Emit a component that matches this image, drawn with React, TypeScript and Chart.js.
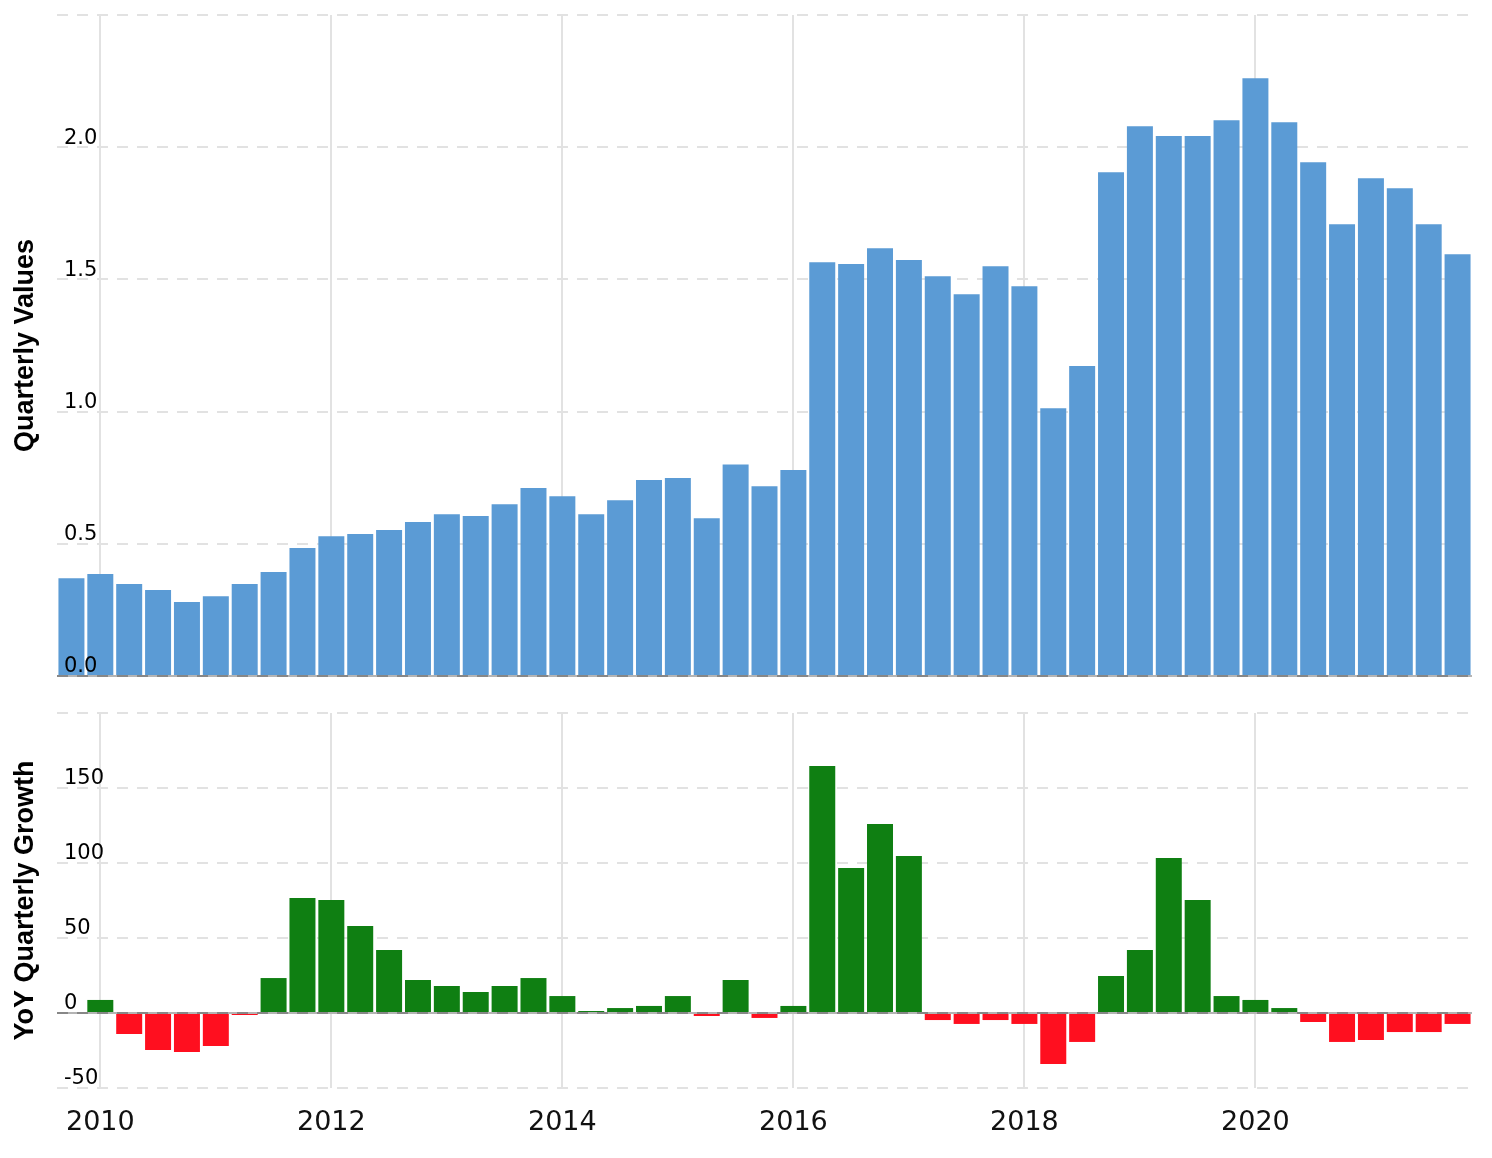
import React, { useEffect, useRef } from 'react';
import { Chart, registerables } from 'chart.js';

Chart.register(...registerables);

// Quarter end dates
const QUARTERS = [
  '2009-09-30', '2009-12-31',
  '2010-03-31', '2010-06-30', '2010-09-30', '2010-12-31',
  '2011-03-31', '2011-06-30', '2011-09-30', '2011-12-31',
  '2012-03-31', '2012-06-30', '2012-09-30', '2012-12-31',
  '2013-03-31', '2013-06-30', '2013-09-30', '2013-12-31',
  '2014-03-31', '2014-06-30', '2014-09-30', '2014-12-31',
  '2015-03-31', '2015-06-30', '2015-09-30', '2015-12-31',
  '2016-03-31', '2016-06-30', '2016-09-30', '2016-12-31',
  '2017-03-31', '2017-06-30', '2017-09-30', '2017-12-31',
  '2018-03-31', '2018-06-30', '2018-09-30', '2018-12-31',
  '2019-03-31', '2019-06-30', '2019-09-30', '2019-12-31',
  '2020-03-31', '2020-06-30', '2020-09-30', '2020-12-31',
  '2021-03-31', '2021-06-30', '2021-09-30',
];

// Quarterly values
const VALUES = [
  0.37, 0.386, 0.348, 0.325, 0.28, 0.302, 0.348, 0.393, 0.484, 0.529,
  0.537, 0.552, 0.582, 0.612, 0.605, 0.65, 0.711, 0.68, 0.612, 0.665,
  0.741, 0.749, 0.597, 0.8, 0.718, 0.779, 1.565, 1.558, 1.618, 1.573,
  1.512, 1.444, 1.55, 1.474, 1.013, 1.172, 1.905, 2.079, 2.042, 2.042,
  2.102, 2.261, 2.094, 1.943, 1.709, 1.883, 1.845, 1.709, 1.595,
];

// YoY quarterly growth (%)
const GROWTH: (number | null)[] = [
  null, 8.7, -14, -24.7, -26, -22, -1, 23.3, 76.7, 75.3,
  58, 42, 22, 18, 14, 18, 23.3, 11.3, 1, 3.3,
  4.7, 11.3, -2, 22, -3.3, 4.7, 164.7, 96.7, 126, 104.7,
  -4.7, -7.3, -4.7, -7.3, -34, -19.3, 24.7, 42, 103.3, 75.3,
  11.3, 8.7, 3.3, -6, -19.3, -18, -12.7, -12.7, -7.3,
];

const YEAR_TICKS = [2010, 2012, 2014, 2016, 2018, 2020];
const VALUE_TICKS = [0, 0.5, 1, 1.5, 2, 2.5];
const GROWTH_TICKS = [-50, 0, 50, 100, 150, 200];

const BLUE = '#5b9bd5';
const GREEN = '#0f7f12';
const RED = '#ff0f1f';
const GRID = '#e2e2e2';
const DASH = [11, 9];

function toYear(d: string) {
  const [y, m] = d.split('-').map(Number);
  return y + m / 12;
}
const XS = QUARTERS.map(toYear);
const HALF = (XS[1] - XS[0]) / 2;
const X_MIN = XS[0] - HALF;
const X_MAX = XS[XS.length - 1] + HALF;

const zeroLinePlugin = {
  id: 'zeroLine',
  beforeDatasetsDraw(chart: any) {
    const { ctx, chartArea } = chart;
    const y = Math.round(chart.scales.y.getPixelForValue(0));
    ctx.save();
    ctx.strokeStyle = '#b4b4b4';
    ctx.lineWidth = 2;
    ctx.beginPath();
    ctx.moveTo(chartArea.left, y);
    ctx.lineTo(chartArea.right, y);
    ctx.stroke();
    ctx.restore();
  },
  afterDatasetsDraw(chart: any) {
    const { ctx, chartArea } = chart;
    const y = Math.round(chart.scales.y.getPixelForValue(0));
    ctx.save();
    ctx.strokeStyle = 'rgba(0,0,0,0.25)';
    ctx.lineWidth = 2;
    ctx.setLineDash(DASH);
    ctx.beginPath();
    ctx.moveTo(chartArea.left, y);
    ctx.lineTo(chartArea.right, y);
    ctx.stroke();
    ctx.restore();
  },
};

function xScale(showLabels: boolean, height: number) {
  return {
    type: 'linear',
    min: X_MIN,
    max: X_MAX,
    offset: false,
    afterBuildTicks: (axis: any) => {
      axis.ticks = YEAR_TICKS.map((v) => ({ value: v }));
    },
    grid: { color: GRID, lineWidth: 2, drawTicks: false, offset: false },
    border: { display: false },
    ticks: {
      display: showLabels,
      autoSkip: false,
      maxRotation: 0,
      padding: 19,
      color: '#111',
      font: { family: 'DejaVu Sans', size: 27 },
      callback: (v: any) => String(v),
    },
    afterFit: (s: any) => {
      s.height = height;
      s.paddingLeft = 0;
      s.paddingRight = 0;
    },
  };
}

function yScale(ticksArr: number[], title: string, fmt: (v: number) => string) {
  const min = ticksArr[0];
  const max = ticksArr[ticksArr.length - 1];
  return {
    type: 'linear',
    position: 'left',
    min,
    max,
    afterBuildTicks: (axis: any) => {
      axis.ticks = ticksArr.map((v) => ({ value: v }));
    },
    grid: { color: GRID, lineWidth: 2, drawTicks: false },
    border: { display: false, dash: DASH },
    ticks: {
      z: 1,
      mirror: true,
      padding: 7,
      labelOffset: -9,
      color: '#000',
      font: { family: 'DejaVu Sans', size: 21 },
      callback: (v: any) => (v === max ? '' : fmt(Number(v))),
    },
    title: {
      display: true,
      text: title,
      color: '#000',
      font: { family: 'Liberation Sans', weight: 'bold', size: 27 },
      padding: { top: 1, bottom: 0 },
    },
    afterFit: (s: any) => {
      s.width = 49;
      s.paddingTop = 0;
      s.paddingBottom = 0;
    },
  };
}

function ChartBox({ height, config }: { height: number; config: () => any }) {
  const ref = useRef<HTMLCanvasElement | null>(null);
  useEffect(() => {
    if (!ref.current) return;
    const chart = new Chart(ref.current, config());
    return () => chart.destroy();
  }, []);
  return (
    <div style={{ position: 'relative', height }}>
      <canvas ref={ref} style={{ display: 'block' }} />
    </div>
  );
}

function topConfig() {
  return {
    type: 'bar',
    data: {
      datasets: [
        {
          data: VALUES.map((v, i) => ({ x: XS[i], y: v })),
          backgroundColor: BLUE,
          borderWidth: 0,
          barPercentage: 0.9,
          categoryPercentage: 1,
        },
      ],
    },
    options: {
      animation: false,
      responsive: true,
      maintainAspectRatio: false,
      layout: { padding: { top: 7, left: 0, right: 12, bottom: 0 } },
      plugins: { legend: { display: false }, tooltip: { enabled: false } },
      scales: {
        x: xScale(false, 4),
        y: yScale(VALUE_TICKS, 'Quarterly Values', (v) => v.toFixed(1)),
      },
    },
    plugins: [zeroLinePlugin],
  };
}

function bottomConfig() {
  return {
    type: 'bar',
    data: {
      datasets: [
        {
          data: GROWTH.map((v, i) => ({ x: XS[i], y: v })),
          backgroundColor: GROWTH.map((v) => (v !== null && v < 0 ? RED : GREEN)),
          borderWidth: 0,
          minBarLength: 2,
          barPercentage: 0.9,
          categoryPercentage: 1,
        },
      ],
    },
    options: {
      animation: false,
      responsive: true,
      maintainAspectRatio: false,
      layout: { padding: { top: 33, left: 0, right: 12, bottom: 0 } },
      plugins: { legend: { display: false }, tooltip: { enabled: false } },
      scales: {
        x: xScale(true, 62),
        y: yScale(GROWTH_TICKS, 'YoY Quarterly Growth', (v) => String(v)),
      },
    },
    plugins: [zeroLinePlugin],
  };
}

export default function App() {
  return (
    <div>
      <ChartBox height={672} config={topConfig} />
      <ChartBox height={470} config={bottomConfig} />
    </div>
  );
}
